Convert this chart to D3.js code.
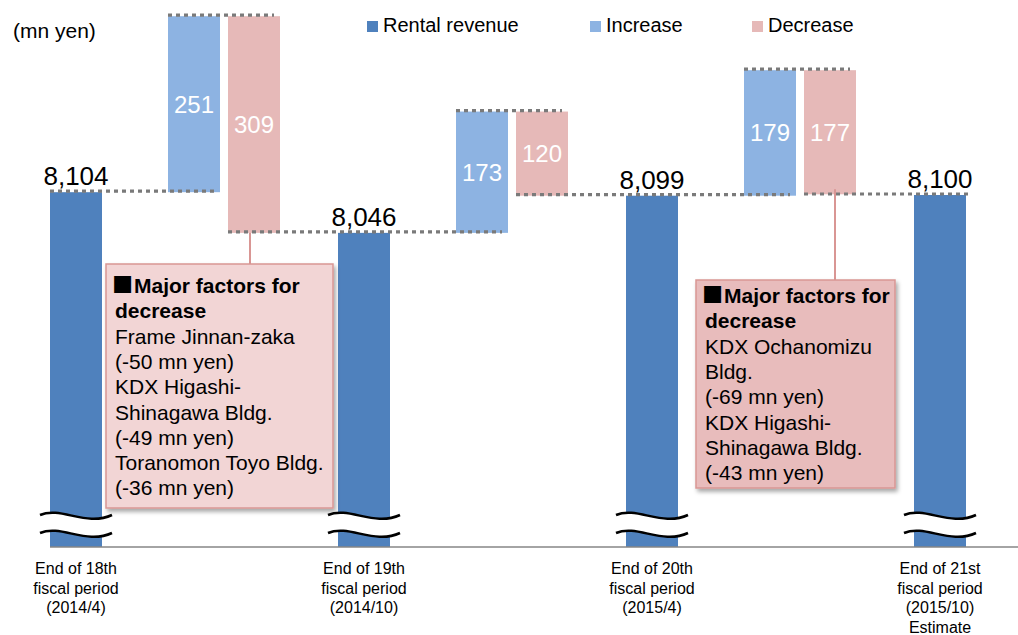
<!DOCTYPE html>
<html>
<head>
<meta charset="utf-8">
<script src="https://cdn.jsdelivr.net/npm/d3@7"></script>
<style>
  body { margin: 0; background: #fff; }
  svg { display: block; font-family: "Liberation Sans", Arial, sans-serif; }
</style>
</head>
<body>
<div id="container"></div>
<script>
// data
const steps = ['r18', 'c1', 'r19', 'c2', 'r20', 'c3', 'r21'];
const revenueSteps = ['r18', 'r19', 'r20', 'r21'];
const changeSteps = ['c1', 'c2', 'c3'];
const periodLabels = [
  ['End of 18th', 'fiscal period', '(2014/4)'],
  ['End of 19th', 'fiscal period', '(2014/10)'],
  ['End of 20th', 'fiscal period', '(2015/4)'],
  ['End of 21st', 'fiscal period', '(2015/10)', 'Estimate']
];
const revenue = [8104, 8046, 8099, 8100];
const increase = [251, 173, 179];
const decrease = [309, 120, 177];
const seriesNames = ['Rental revenue', 'Increase', 'Decrease'];
const unitLabel = '(mn yen)';
const noteMark = '■';
const noteTitle = ['Major factors for', 'decrease'];
const notesFirst = ['Frame Jinnan-zaka', '(-50 mn yen)',
  'KDX Higashi-', 'Shinagawa Bldg.', '(-49 mn yen)', 'Toranomon Toyo Bldg.', '(-36 mn yen)'];
const notesLast = ['KDX Ochanomizu', 'Bldg.', '(-69 mn yen)',
  'KDX Higashi-', 'Shinagawa Bldg.', '(-43 mn yen)'];

const width = 1018;
const height = 635;
const barW = 52;
const colors = { rev: '#4f81bd', inc: '#8db3e2', dec: '#e6b9b8' };

const svg = d3.select('#container')
    .append('svg')
    .attr('width', width)
    .attr('height', height);

const defs = svg.append('defs');
const shadow = defs.append('filter').attr('id', 'shadow')
    .attr('x', '-10%').attr('y', '-10%').attr('width', '130%').attr('height', '130%');
shadow.append('feDropShadow')
    .attr('dx', 2).attr('dy', 3).attr('stdDeviation', 2)
    .attr('flood-color', '#000').attr('flood-opacity', 0.35);

const x = d3.scaleBand().domain(steps).range([4, 1012]);
const sub = d3.scaleBand().domain(['inc', 'dec']).range([-56, 64]);
const y = d3.scaleLinear().domain([7598, 8100]).range([547, 195]);
const yBase = y(7598);

const center = s => x(s) + x.bandwidth() / 2;
const revLeft = i => center(revenueSteps[i]) - barW / 2;
const incLeft = i => center(changeSteps[i]) + sub('inc') + (sub.bandwidth() - barW) / 2;
const decLeft = i => center(changeSteps[i]) + sub('dec') + (sub.bandwidth() - barW) / 2;

// waterfall pieces
const changes = changeSteps.map(function (s, i) {
    const start = revenue[i];
    const top = start + increase[i];
    return { i: i, start: start, top: top, end: top - decrease[i] };
});

// revenue bars
svg.selectAll('.rev')
    .data(revenue)
    .enter()
    .append('rect')
    .attr('class', 'rev')
    .attr('x', (d, i) => revLeft(i))
    .attr('y', d => y(d))
    .attr('width', barW)
    .attr('height', d => yBase - y(d))
    .style('fill', colors.rev);

svg.selectAll('.inc')
    .data(changes)
    .enter()
    .append('rect')
    .attr('class', 'inc')
    .attr('x', d => incLeft(d.i))
    .attr('y', d => y(d.top))
    .attr('width', barW)
    .attr('height', d => y(d.start) - y(d.top))
    .style('fill', colors.inc);

svg.selectAll('.dec')
    .data(changes)
    .enter()
    .append('rect')
    .attr('class', 'dec')
    .attr('x', d => decLeft(d.i))
    .attr('y', d => y(d.top))
    .attr('width', barW)
    .attr('height', d => y(d.end) - y(d.top))
    .style('fill', colors.dec);

// dotted connectors
const connectors = [];
changes.forEach(function (d) {
    connectors.push({ v: d.start, x1: d.i === 0 ? revLeft(0) : decLeft(d.i - 1), x2: incLeft(d.i) + barW - 6 });
    connectors.push({ v: d.top, x1: incLeft(d.i), x2: decLeft(d.i) + barW - 6 });
});
connectors.push({ v: revenue[3], x1: decLeft(2), x2: revLeft(3) + barW + 4 });

svg.selectAll('.connector')
    .data(connectors)
    .enter()
    .append('line')
    .attr('class', 'connector')
    .attr('x1', d => d.x1)
    .attr('x2', d => d.x2)
    .attr('y1', d => y(d.v) - 1)
    .attr('y2', d => y(d.v) - 1)
    .style('stroke', '#7a7a7a')
    .style('stroke-width', 3.2)
    .style('stroke-dasharray', '4,4');

// breaks on revenue bars
const wave = (cx, cy) => 'M' + (cx - 36) + ',' + (cy - 1) +
    ' C' + (cx - 15) + ',' + (cy - 10) + ' ' + (cx + 10) + ',' + (cy + 11) + ' ' + (cx + 36) + ',' + (cy - 1);
const waveBack = (cx, cy) => ' L' + (cx + 36) + ',' + (cy - 1) +
    ' C' + (cx + 10) + ',' + (cy + 11) + ' ' + (cx - 15) + ',' + (cy - 10) + ' ' + (cx - 36) + ',' + (cy - 1) + ' Z';
const breaks = svg.selectAll('.brk')
    .data(revenueSteps)
    .enter()
    .append('g')
    .attr('class', 'brk');
breaks.append('path')
    .attr('d', s => wave(center(s), 516) + waveBack(center(s), 534))
    .style('fill', '#fff');
breaks.append('path')
    .attr('d', s => wave(center(s), 516))
    .style('fill', 'none').style('stroke', '#000').style('stroke-width', 2.5);
breaks.append('path')
    .attr('d', s => wave(center(s), 534))
    .style('fill', 'none').style('stroke', '#000').style('stroke-width', 2.5);

// value labels
svg.selectAll('.rev-label')
    .data(revenue)
    .enter()
    .append('text')
    .attr('class', 'rev-label')
    .attr('x', (d, i) => center(revenueSteps[i]))
    .attr('y', d => y(d) - 7)
    .style('text-anchor', 'middle')
    .style('font-size', '26px')
    .text(d3.format(','));

svg.selectAll('.inc-label')
    .data(changes)
    .enter()
    .append('text')
    .attr('x', d => incLeft(d.i) + barW / 2)
    .attr('y', d => (y(d.top) + y(d.start)) / 2)
    .attr('dy', '.35em')
    .style('text-anchor', 'middle')
    .style('font-size', '24px')
    .style('fill', '#fff')
    .text((d, i) => increase[i]);

svg.selectAll('.dec-label')
    .data(changes)
    .enter()
    .append('text')
    .attr('x', d => decLeft(d.i) + barW / 2)
    .attr('y', d => (y(d.top) + y(d.end)) / 2)
    .attr('dy', '.35em')
    .style('text-anchor', 'middle')
    .style('font-size', '24px')
    .style('fill', '#fff')
    .text((d, i) => decrease[i]);

// x axis
svg.append('line')
    .attr('x1', revLeft(0)).attr('x2', width)
    .attr('y1', yBase).attr('y2', yBase)
    .style('stroke', '#868686').style('stroke-width', 1.5);

const xAxis = d3.axisBottom(x).tickValues(revenueSteps).tickSize(0).tickFormat('');
const axisG = svg.append('g')
    .attr('transform', 'translate(0,' + yBase + ')')
    .call(xAxis);
axisG.select('.domain').remove();
axisG.selectAll('.tick text')
    .attr('y', 0).attr('dy', 0)
    .style('font-size', '16px')
    .style('font-family', '"Liberation Sans", Arial, sans-serif')
    .style('fill', '#000')
    .each(function (d, i) {
        const t = d3.select(this);
        periodLabels[i].forEach(function (line, k) {
            t.append('tspan').attr('x', 0).attr('y', 27 + k * 19.7).text(line);
        });
    });

// unit label
svg.append('text')
    .attr('x', 13).attr('y', 38)
    .style('font-size', '21px')
    .text(unitLabel);

// legend
const legendX = [367, 590, 752];
const legendColors = [colors.rev, colors.inc, colors.dec];
const legend = svg.append('g').attr('id', 'legend')
    .selectAll('g')
    .data(seriesNames)
    .enter()
    .append('g')
    .attr('transform', (d, i) => 'translate(' + legendX[i] + ',0)');
legend.append('rect')
    .attr('y', 21).attr('width', 11).attr('height', 11)
    .style('fill', (d, i) => legendColors[i]);
legend.append('text')
    .attr('x', 16).attr('y', 32)
    .style('font-size', '20px')
    .text(d => d);

// callout boxes
function callout(box, lines, fill, anchorX, anchorY) {
    svg.append('line')
        .attr('x1', anchorX).attr('x2', anchorX)
        .attr('y1', anchorY).attr('y2', box.y)
        .style('stroke', '#d99694').style('stroke-width', 2);
    svg.append('rect')
        .attr('x', box.x).attr('y', box.y)
        .attr('width', box.w).attr('height', box.h)
        .attr('filter', 'url(#shadow)')
        .style('fill', fill)
        .style('stroke', '#d99694')
        .style('stroke-width', 1.5);
    const tx = box.x + 9;
    const ty = box.y + box.ty;
    const t = svg.append('text').style('font-size', '21px');
    t.append('tspan')
        .attr('x', tx - 3)
        .attr('y', ty + 2)
        .style('font-size', '35px')
        .text(noteMark);
    noteTitle.forEach(function (line, k) {
        t.append('tspan')
            .attr('x', k === 0 ? tx + 19 : tx)
            .attr('y', ty + k * 25.3)
            .style('font-weight', 'bold')
            .text(line);
    });
    lines.forEach(function (line, k) {
        t.append('tspan')
            .attr('x', tx)
            .attr('y', ty + (k + 2) * 25.3)
            .text(line);
    });
}

callout({ x: 106, y: 264, w: 227, h: 244, ty: 29 }, notesFirst, '#f2d5d5',
    decLeft(0) + barW / 2 - 4, y(changes[0].end));
callout({ x: 696, y: 280, w: 199, h: 208, ty: 23 }, notesLast, '#e8bcbc',
    decLeft(2) + barW / 2 + 5, y(changes[2].end) - 5);
</script>
</body>
</html>
